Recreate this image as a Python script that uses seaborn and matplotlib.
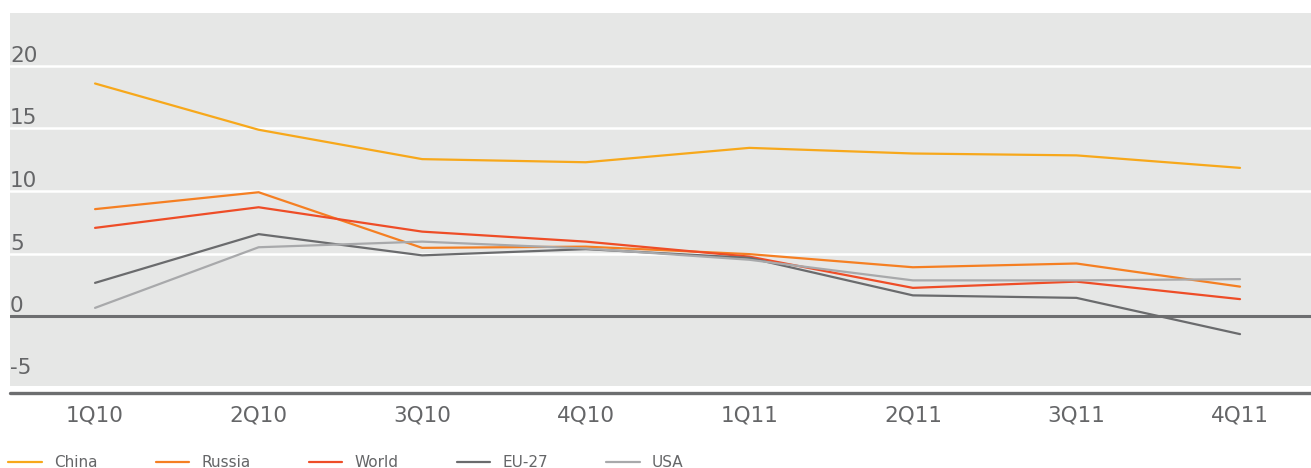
import matplotlib
matplotlib.use("Agg")
import matplotlib.pyplot as plt
from matplotlib.lines import Line2D
import seaborn as sns
import pandas as pd

quarters = ["1Q10", "2Q10", "3Q10", "4Q10", "1Q11", "2Q11", "3Q11", "4Q11"]
china = [18.6, 14.9, 12.55, 12.3, 13.45, 13.0, 12.85, 11.85]
russia = [8.55, 9.9, 5.45, 5.55, 4.95, 3.9, 4.2, 2.35]
world = [7.05, 8.7, 6.75, 5.95, 4.75, 2.25, 2.75, 1.35]
eu27 = [2.65, 6.55, 4.85, 5.35, 4.65, 1.65, 1.45, -1.45]
usa = [0.65, 5.5, 5.95, 5.4, 4.5, 2.85, 2.85, 2.95]
series_names = ["China", "Russia", "World", "EU-27", "USA"]
yticks = [-5, 0, 5, 10, 15, 20]

colors = {"China": "#F7A81B", "Russia": "#F57F22", "World": "#EE4D27",
          "EU-27": "#6A6B6D", "USA": "#A8A9AB"}
txt = "#656668"

rows = []
for name, vals in zip(series_names, [china, russia, world, eu27, usa]):
    for i, (q, v) in enumerate(zip(quarters, vals)):
        rows.append({"series": name, "x": i, "quarter": q, "value": v})
df = pd.DataFrame(rows)

sns.set_theme(style="white")
plt.rcParams["font.family"] = ["DejaVu Sans"]

W, H = 1311, 468
fig = plt.figure(figsize=(W / 100, H / 100), dpi=100)
ax = fig.add_axes([10 / W, 1 - 386 / H, 1301 / W, (386 - 13) / H])
ax.set_facecolor("#E6E7E6")

sns.lineplot(data=df, x="x", y="value", hue="series", palette=colors,
             hue_order=series_names, linewidth=1.6, ax=ax, legend=False,
             sort=False)

ax.set_ylim(-5.6, 24.24)
ax.set_xlim(-0.52, 7.434)
ax.set_yticks(yticks)
ax.set_yticklabels([str(t) for t in yticks])
ax.set_xticks(range(len(quarters)))
ax.set_xticklabels(quarters)
ax.grid(axis="y", color="white", linewidth=1.8)
ax.grid(axis="x", visible=False)
ax.set_axisbelow(True)
gl = ax.yaxis.get_gridlines()
gl[0].set_visible(False)
gl[1].set_visible(False)
ax.axhline(0, color="#6D6E70", linewidth=2.2, zorder=1.5)

for s in ax.spines.values():
    s.set_visible(False)
ax.tick_params(axis="y", length=0, pad=0, labelsize=15.5, labelcolor=txt)
ax.tick_params(axis="x", length=0, pad=14, labelsize=15.5, labelcolor=txt)
for lab in ax.get_yticklabels() + ax.get_xticklabels():
    lab.set_fontweight("medium")
for lab in ax.get_yticklabels():
    lab.set_ha("left")
    lab.set_va("bottom")
ax.set_xlabel("")
ax.set_ylabel("")

fig.add_artist(Line2D([10 / W, 1.0], [1 - 393 / H, 1 - 393 / H],
                      transform=fig.transFigure, color="#6D6E70", linewidth=2.4))

handles = [Line2D([0], [0], color=colors[n], linewidth=1.6) for n in series_names]
leg = fig.legend(handles, series_names, loc="lower left",
                 bbox_to_anchor=(2 / W, -0.018), ncol=5, frameon=False,
                 fontsize=11, handlelength=2.2, handletextpad=0.8,
                 columnspacing=3.8, borderaxespad=0)
for t in leg.get_texts():
    t.set_color(txt)
    t.set_family(["Liberation Sans Narrow", "DejaVu Sans"])

fig.savefig("out.png", dpi=100)
